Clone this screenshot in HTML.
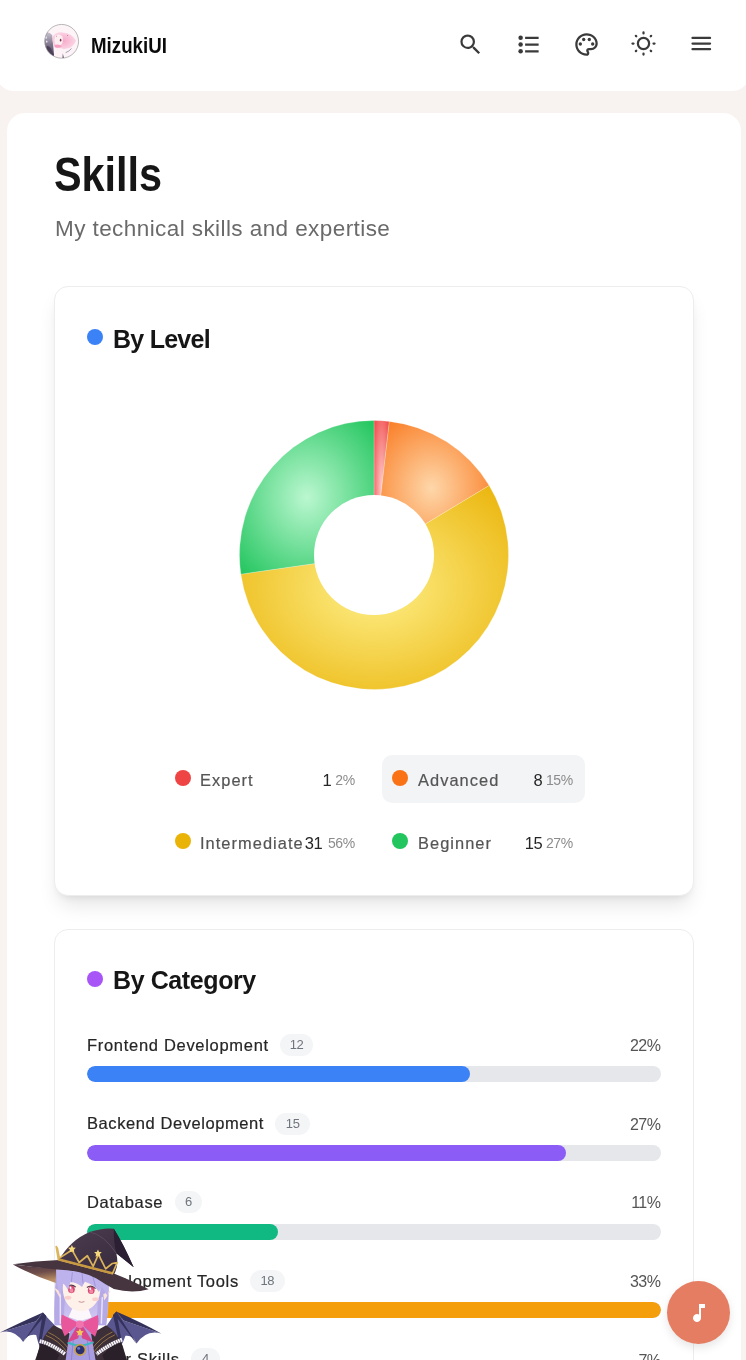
<!DOCTYPE html>
<html lang="en">
<head>
<meta charset="utf-8">
<title>Skills - MizukiUI</title>
<style>
*{box-sizing:border-box;margin:0;padding:0}
html,body{width:746px;height:1360px;overflow:hidden}
body{background:#f8f3f0;font-family:"Liberation Sans",sans-serif;color:#111;position:relative}
.abs{position:absolute}
#hbg{position:absolute;left:-4px;top:0;width:754px;height:91px;background:#fff;border-radius:0 0 18px 18px}
#header{position:absolute;left:0;top:0;width:746px;height:91.5px}
#brand{position:absolute;left:90.5px;top:34px;font-size:21.5px;font-weight:bold;line-height:24px;color:#0a0a0a;white-space:nowrap;transform:scaleX(.87);transform-origin:0 50%}
#avatar{position:absolute;left:40px;top:22px;width:42px;height:42px}
.hicon{position:absolute;top:30.8px;width:27px;height:27px;fill:#3a3a3a}
#main{position:absolute;left:7px;top:113px;width:733.5px;height:1300px;background:#fff;border-radius:18px}
h1{position:absolute;left:54.3px;top:146.6px;font-size:48px;line-height:56px;font-weight:bold;color:#161616;white-space:nowrap;transform:scaleX(.862);transform-origin:0 50%}
#sub{position:absolute;left:55px;top:214.5px;font-size:22.5px;line-height:28px;color:#6a6a6a;white-space:nowrap;letter-spacing:.42px}
.card{position:absolute;left:54px;width:640px;background:#fff;border:1px solid #ededed;border-radius:14px}
#card1{top:285.9px;height:610px;box-shadow:0 13px 20px -4px rgba(0,0,0,.1),0 5px 8px -5px rgba(0,0,0,.1)}
#card2{top:929px;height:520px}
.ctitle{position:absolute;font-size:25px;line-height:30px;font-weight:bold;color:#161616;white-space:nowrap;letter-spacing:-0.75px}
.dot{position:absolute;border-radius:50%}
.lg{position:absolute;font-size:16.4px;line-height:22px;color:#555;white-space:nowrap;letter-spacing:1.05px;-webkit-text-stroke:.2px #555}
.lgn{position:absolute;font-size:16.5px;line-height:22px;color:#262626;letter-spacing:-.6px;white-space:nowrap;text-align:right}
.lgp{position:absolute;font-size:14px;line-height:22px;color:#8c8c8c;letter-spacing:-.3px;white-space:nowrap;text-align:right}
.row-l{position:absolute;left:87px;font-size:16.5px;line-height:22px;color:#262626;white-space:nowrap;letter-spacing:.7px;-webkit-text-stroke:.2px #262626}
.row-p{position:absolute;right:85.5px;font-size:16px;line-height:22px;color:#555;white-space:nowrap;text-align:right;letter-spacing:-.5px}
.badge{position:absolute;height:22px;border-radius:11px;background:#f4f5f7;font-size:13px;line-height:22px;color:#70747c;text-align:center;letter-spacing:-.3px}
.track{position:absolute;left:87px;width:574px;height:16px;border-radius:8px;background:#e5e7eb;overflow:hidden}
.fill{position:absolute;left:0;top:0;height:16px;border-radius:8px}
#fab{position:absolute;left:667.2px;top:1281px;width:63px;height:63px;border-radius:50%;background:#e57d62;box-shadow:0 4px 10px rgba(0,0,0,.1)}
</style>
</head>
<body>
<div id="hbg"></div>
<div id="header">
  <svg id="avatar" viewBox="0 0 746 746"><defs><clipPath id="avc"><circle cx="385" cy="343" r="303"/></clipPath><filter id="avb" x="-10%" y="-10%" width="120%" height="120%"><feGaussianBlur stdDeviation="9"/></filter>
<linearGradient id="avd" x1="0" y1="0" x2="0" y2="1"><stop offset="0" stop-color="#c9c3d0"/><stop offset=".45" stop-color="#8a8196"/><stop offset="1" stop-color="#4b4058"/></linearGradient><radialGradient id="avh" cx=".45" cy=".5" r=".6"><stop offset="0" stop-color="#f7a9c9"/><stop offset="1" stop-color="#fbdbe8"/></radialGradient></defs>
    <circle cx="385" cy="343" r="303" fill="#fdf4f7"/>
    <g clip-path="url(#avc)"><g filter="url(#avb)">
      <path d="M70 200Q150 150 215 230Q235 400 250 600L60 600Z" fill="url(#avd)"/>
      <path d="M120 420Q200 420 245 600L100 600Z" fill="#4b4058"/>
      <path d="M95 250l30 10-10 40-30-10zM110 330l25 8-8 30-25-8z" fill="#e9e4ee"/>
      <path d="M230 250Q300 160 430 190Q560 200 640 330Q600 430 520 470Q420 500 300 470Q230 430 225 330Z" fill="url(#avh)"/>
      <path d="M270 240Q340 200 400 260Q420 350 380 400Q320 430 270 400Q240 320 270 240Z" fill="#fdeef1"/>
      <path d="M255 410Q330 380 390 430Q330 470 260 450Z" fill="#f59ec0"/>
      <path d="M270 470Q350 450 420 480L430 640L250 640Z" fill="#fdf2f5"/>
      <path d="M440 480Q540 470 600 420L620 560L450 640Z" fill="#fbf3f7"/>
      <path d="M455 545Q520 520 560 470" stroke="#8c8494" stroke-width="14" fill="none"/>
      <path d="M405 560L425 640L400 640Z" fill="#5a4e60"/>
      <ellipse cx="366" cy="322" rx="14" ry="24" fill="#7a3550"/>
      <ellipse cx="290" cy="255" rx="6" ry="14" fill="#c07a98"/>
      <ellipse cx="490" cy="240" rx="9" ry="10" fill="#b86a8e"/>
    </g></g>
    <circle cx="385" cy="343" r="300" fill="none" stroke="#8f8f8f" stroke-width="11"/>
  </svg>
  <div id="brand">MizukiUI</div>
  <svg class="hicon" style="left:457.1px" viewBox="0 0 24 24"><path d="M15.5 14h-.79l-.28-.27A6.471 6.471 0 0 0 16 9.5 6.5 6.5 0 1 0 9.5 16c1.61 0 3.09-.59 4.23-1.57l.27.28v.79l5 4.99L20.490 19l-4.990-5zm-6 0C7.010 14 5 11.990 5 9.500S7.010 5 9.500 5 14 7.010 14 9.500 11.990 14 9.500 14z"/></svg>
  <svg class="hicon" style="left:515px" viewBox="0 0 24 24"><path d="M9 19v-2h12v2zm0-6v-2h12v2zm0-6V5h12v2z"/><circle cx="5" cy="6" r="2"/><circle cx="5" cy="12" r="2"/><circle cx="5" cy="18" r="2"/></svg>
  <svg class="hicon" style="left:572.9px" viewBox="0 0 24 24"><path d="M12 22C6.490 22 2 17.510 2 12S6.490 2 12 2s10 4.040 10 9c0 3.310-2.690 6-6 6h-1.770c-.28 0-.5.220-.5.500 0 .120.050.230.130.330.410.470.640 1.060.640 1.670A2.500 2.500 0 0 1 12 22zm0-18c-4.410 0-8 3.590-8 8s3.590 8 8 8c.280 0 .500-.220.500-.500a.540.540 0 0 0-.140-.350c-.410-.460-.630-1.050-.630-1.650a2.500 2.500 0 0 1 2.500-2.500H16c2.210 0 4-1.790 4-4 0-3.860-3.590-7-8-7z"/><circle cx="6.500" cy="11.500" r="1.500"/><circle cx="9.500" cy="7.500" r="1.500"/><circle cx="14.500" cy="7.500" r="1.500"/><circle cx="17.500" cy="11.500" r="1.500"/></svg>
  <svg class="hicon" style="left:629.6px;top:30.4px" viewBox="0 0 24 24"><circle cx="12" cy="12" r="5" fill="none" stroke="#3a3a3a" stroke-width="2"/><path d="M12.00 3.10L12.00 2.20M18.43 5.57L18.79 5.21M20.90 12.00L21.80 12.00M18.43 18.43L18.79 18.79M12.00 20.90L12.00 21.80M5.57 18.43L5.21 18.79M3.10 12.00L2.20 12.00M5.57 5.57L5.21 5.21" fill="none" stroke="#3a3a3a" stroke-width="2" stroke-linecap="round"/></svg>
  <svg class="hicon" style="left:688px;top:30.3px" viewBox="0 0 24 24"><path d="M4 7h15.6M4 12h15.6M4 17h15.6" fill="none" stroke="#3a3a3a" stroke-width="2" stroke-linecap="round"/></svg>
</div>
<div id="main"></div>
<h1>Skills</h1>
<div id="sub">My technical skills and expertise</div>

<div class="card" id="card1"></div>
<div class="dot" style="left:87px;top:328.5px;width:16px;height:16px;background:#3b82f6"></div>
<div class="ctitle" style="left:113px;top:324px">By Level</div>

<svg class="abs" style="left:223.7px;top:405.3px" width="300" height="300" viewBox="-150 -150 300 300" id="donut"><defs><radialGradient id="g-ex" r="0.7"><stop offset="0" stop-color="#fecaca"/><stop offset="1" stop-color="#ef4444"/></radialGradient><radialGradient id="g-ad" r="0.7"><stop offset="0" stop-color="#fed7aa"/><stop offset="1" stop-color="#f97316"/></radialGradient><radialGradient id="g-im" r="0.7"><stop offset="0" stop-color="#fef08a"/><stop offset="1" stop-color="#eab308"/></radialGradient><radialGradient id="g-bg" r="0.7"><stop offset="0" stop-color="#bbf7d0"/><stop offset="1" stop-color="#22c55e"/></radialGradient></defs>
<path d="M0 0L0.00 -134.50A134.5 134.5 0 0 1 15.33 -133.62Z" fill="url(#g-ex)" stroke="#fff" stroke-opacity=".22" stroke-width="1"/>
<path d="M0 0L15.33 -133.62A134.5 134.5 0 0 1 115.18 -69.46Z" fill="url(#g-ad)" stroke="#fff" stroke-opacity=".22" stroke-width="1"/>
<path d="M0 0L115.18 -69.46A134.5 134.5 0 1 1 -133.13 19.14Z" fill="url(#g-im)" stroke="#fff" stroke-opacity=".22" stroke-width="1"/>
<path d="M0 0L-133.13 19.14A134.5 134.5 0 0 1 -0.00 -134.50Z" fill="url(#g-bg)" stroke="#fff" stroke-opacity=".22" stroke-width="1"/>
<circle r="60" fill="#fff"/></svg>

<div class="abs" style="left:382px;top:755px;width:202.6px;height:47.5px;border-radius:10px;background:#f3f4f6"></div>
<div class="dot" style="left:174.7px;top:770px;width:16px;height:16px;background:#ef4444"></div>
<div class="lg" style="left:200px;top:769px">Expert</div>
<div class="lgn" style="right:415px;top:769px">1</div>
<div class="lgp" style="right:391px;top:769px">2%</div>
<div class="dot" style="left:391.7px;top:770px;width:16px;height:16px;background:#f97316"></div>
<div class="lg" style="left:418px;top:769px">Advanced</div>
<div class="lgn" style="right:204px;top:769px">8</div>
<div class="lgp" style="right:173px;top:769px">15%</div>
<div class="dot" style="left:174.7px;top:833px;width:16px;height:16px;background:#eab308"></div>
<div class="lg" style="left:200px;top:832px">Intermediate</div>
<div class="lgn" style="right:424px;top:832px">31</div>
<div class="lgp" style="right:391px;top:832px">56%</div>
<div class="dot" style="left:391.7px;top:833px;width:16px;height:16px;background:#22c55e"></div>
<div class="lg" style="left:418px;top:832px">Beginner</div>
<div class="lgn" style="right:204px;top:832px">15</div>
<div class="lgp" style="right:173px;top:832px">27%</div>

<div class="card" id="card2"></div>
<div class="dot" style="left:87px;top:971.1px;width:16px;height:16px;background:#a855f7"></div>
<div class="ctitle" style="left:113px;top:964.9px;letter-spacing:-.4px">By Category</div>

<div class="row-l" style="top:1033.7px">Frontend Development</div>
<div class="badge" style="left:280.4px;top:1034.0px;width:32.4px">12</div>
<div class="row-p" style="top:1035.0px">22%</div>
<div class="track" style="top:1066.3px"><div class="fill" style="width:383px;background:#3b82f6"></div></div>

<div class="row-l" style="top:1112.4px;letter-spacing:.58px">Backend Development</div>
<div class="badge" style="left:275.2px;top:1112.7px;width:35px">15</div>
<div class="row-p" style="top:1113.7px">27%</div>
<div class="track" style="top:1145.0px"><div class="fill" style="width:478.5px;background:#8b5cf6"></div></div>

<div class="row-l" style="top:1191.0px">Database</div>
<div class="badge" style="left:174.8px;top:1191.3px;width:27.5px">6</div>
<div class="row-p" style="top:1192.3px">11%</div>
<div class="track" style="top:1223.6px"><div class="fill" style="width:191.3px;background:#10b981"></div></div>

<div class="row-l" style="top:1269.7px">Development Tools</div>
<div class="badge" style="left:249.7px;top:1270.0px;width:35.3px">18</div>
<div class="row-p" style="top:1271.0px">33%</div>
<div class="track" style="top:1302.3px"><div class="fill" style="width:574px;background:#f59e0b"></div></div>

<div class="row-l" style="top:1348.4px">Other Skills</div>
<div class="badge" style="left:190.8px;top:1347.5px;width:29.2px">4</div>
<div class="row-p" style="top:1349.7px">7%</div>
<div class="track" style="top:1381.0px"><div class="fill" style="width:127.5px;background:#ec4899"></div></div>

<svg id="witch" class="abs" style="left:0;top:1220px" width="180" height="140" viewBox="0 0 746 580">
<defs>
<linearGradient id="brimu" x1="0" y1="0" x2="0.3" y2="1"><stop offset="0" stop-color="#4a3644"/><stop offset=".55" stop-color="#6e4d4a"/><stop offset="1" stop-color="#b98d62"/></linearGradient>
<linearGradient id="hatg" x1="0" y1="0" x2="1" y2="1"><stop offset="0" stop-color="#4d3d50"/><stop offset="1" stop-color="#35283b"/></linearGradient>
<linearGradient id="hairg" x1="0" y1="0" x2="0" y2="1"><stop offset="0" stop-color="#a99be0"/><stop offset="1" stop-color="#d4ccf4"/></linearGradient>
</defs>
<!-- wings -->
<path d="M238 448L200 408L178 383L150 420L0 466Q58 448 96 506Q112 470 150 476Q156 505 166 528Q190 478 240 478Z" fill="#5a5790"/>
<path d="M178 383L150 420L0 466Q76 428 178 383ZM178 383L184 398L100 500L96 506ZM178 383L192 398L166 528L160 500Z" fill="#34315a"/>
<path d="M436 448L466 402L482 379L512 416L668 470Q606 452 566 512Q552 476 520 480Q512 505 500 524Q480 480 436 476Z" fill="#5a5790"/>
<path d="M482 379L512 416L668 470Q590 426 482 379ZM482 379L476 394L560 506L566 512ZM482 379L468 394L498 524L504 500Z" fill="#34315a"/>
<!-- under brim -->
<path d="M53 184Q140 232 234 262L234 200Q140 196 53 184Z" fill="url(#brimu)"/>
<!-- hair back -->
<path d="M234 206L450 250Q454 350 440 436L226 436Q222 330 234 206Z" fill="url(#hairg)"/>
<path d="M236 236Q222 330 226 436L268 436Q262 360 274 300Z" fill="#b5aae6"/>
<path d="M446 270Q452 350 440 436L398 436Q408 360 404 300Z" fill="#b5aae6"/>
<path d="M250 300L250 430M424 320L420 430" stroke="#e9e4fa" stroke-width="6" fill="none"/>
<!-- cloak -->
<path d="M222 436Q180 470 160 540L146 580L526 580L508 520Q480 460 440 436L380 470L290 470Z" fill="#3d2f38"/>
<path d="M168 506Q210 520 246 560L236 580L150 580Z" fill="#2a2029"/>
<path d="M500 500Q460 520 424 560L432 580L524 580Z" fill="#2a2029"/>
<path d="M164 502Q216 514 270 556" fill="none" stroke="#f6f3fa" stroke-width="16" stroke-dasharray="8 2"/>
<path d="M506 496Q456 512 400 556" fill="none" stroke="#f6f3fa" stroke-width="16" stroke-dasharray="8 2"/>
<path d="M190 478Q244 498 278 548M200 466Q252 488 286 536" fill="none" stroke="#b48a4a" stroke-width="3"/>
<path d="M476 476Q424 498 388 548M466 464Q414 488 380 536" fill="none" stroke="#b48a4a" stroke-width="3"/>
<!-- dress -->
<path d="M292 440L372 440L396 580L272 580Z" fill="#a99de0"/>
<path d="M306 470L296 580M358 470L372 580" stroke="#8f82cc" stroke-width="4" fill="none"/>
<path d="M280 508Q330 532 388 506" fill="none" stroke="#3fb5c4" stroke-width="9"/>
<circle cx="332" cy="538" r="22" fill="#2c2f6e" stroke="#c9a14c" stroke-width="7"/>
<circle cx="326" cy="532" r="6" fill="#6a78c8"/>
<!-- neck/collar -->
<path d="M300 366L366 368L380 404L332 418L284 402Z" fill="#fbf7fb"/>
<!-- bow -->
<path d="M330 428L256 392Q246 440 268 482Z" fill="#e8579c"/>
<path d="M332 428L406 394Q414 440 394 484Z" fill="#e8579c"/>
<path d="M318 440L280 508L324 490L334 450Z" fill="#d9468c"/>
<path d="M344 440L386 508L340 490L332 450Z" fill="#d9468c"/>
<circle cx="331" cy="432" r="16" fill="#f274ae"/>
<path d="M331 450l5 10 11 1-8 8 2 11-10-5-10 5 2-11-8-8 11-1z" fill="#f0c95a"/>
<!-- ears -->
<path d="M250 296L224 280L248 322Z" fill="#fbe3d8"/>
<path d="M428 308L460 292L432 334Z" fill="#fbe3d8"/>
<!-- face -->
<path d="M260 262Q256 338 300 368Q334 388 368 370Q416 344 416 280Q380 236 260 246Z" fill="#fef1ea"/>
<!-- blush -->
<ellipse cx="282" cy="322" rx="14" ry="8" fill="#fbd0cc"/>
<ellipse cx="396" cy="328" rx="14" ry="8" fill="#fbd0cc"/>
<!-- eyes -->
<ellipse cx="296" cy="287" rx="14" ry="16" fill="#d64a72"/>
<ellipse cx="378" cy="291" rx="14" ry="16" fill="#d64a72"/>
<ellipse cx="296" cy="292" rx="8" ry="9" fill="#f08aa6"/>
<ellipse cx="378" cy="296" rx="8" ry="9" fill="#f08aa6"/>
<ellipse cx="292" cy="281" rx="4" ry="5" fill="#fff"/>
<ellipse cx="374" cy="285" rx="4" ry="5" fill="#fff"/>
<path d="M278 276Q296 262 314 278" fill="none" stroke="#5a3a4a" stroke-width="5"/>
<path d="M360 280Q378 266 396 284" fill="none" stroke="#5a3a4a" stroke-width="5"/>
<path d="M326 338Q338 344 350 338" fill="none" stroke="#b0707a" stroke-width="3"/>
<!-- bangs -->
<path d="M234 204Q340 196 452 250L448 318Q434 298 422 276L410 298Q390 268 352 256L340 278Q320 258 292 258L282 290Q270 268 262 264L250 312Q234 280 234 204Z" fill="#bdb2ec"/>
<path d="M300 216L296 256M340 220L344 262M384 232L396 276" stroke="#a093da" stroke-width="4" fill="none"/>
<!-- hat brim near -->
<path d="M53 183Q150 170 244 166L464 218Q560 256 616 287Q548 306 472 286Q430 262 400 242Q366 224 330 216Q280 206 234 205Q140 196 53 183Z" fill="#46343f"/>
<!-- cone -->
<path d="M242 170Q290 84 372 50Q430 30 472 36Q512 100 554 196Q512 162 482 138Q494 190 472 226Z" fill="url(#hatg)"/>
<path d="M472 36Q512 100 554 196Q512 162 482 138Q470 90 472 36Z" fill="#2b2033"/>
<path d="M372 50Q430 60 482 138" stroke="#5b4a5e" stroke-width="4" fill="none"/>
<!-- crown -->
<path d="M233 110L238 118L246 158L298 124L328 176L362 148L386 192L408 142L438 202L466 180L486 176L466 222L242 164Z" fill="none" stroke="#dcb45a" stroke-width="7" stroke-linejoin="round"/>
<path d="M244 163L464 220" stroke="#c79a42" stroke-width="10"/>
<path d="M298 104l5 10 11 1-8 8 2 11-10-5-10 5 2-11-8-8 11-1z" fill="#f3d77a"/>
<path d="M406 122l5 10 11 1-8 8 2 11-10-5-10 5 2-11-8-8 11-1z" fill="#f3d77a"/>
</svg>
<div id="fab"><svg class="abs" style="left:19.5px;top:20.3px" width="24" height="24" viewBox="0 0 24 24"><path fill="#fff" d="M12 3v10.550A4 4 0 1 0 14 17V7h4V3h-6z"/></svg></div>
</body>
</html>
